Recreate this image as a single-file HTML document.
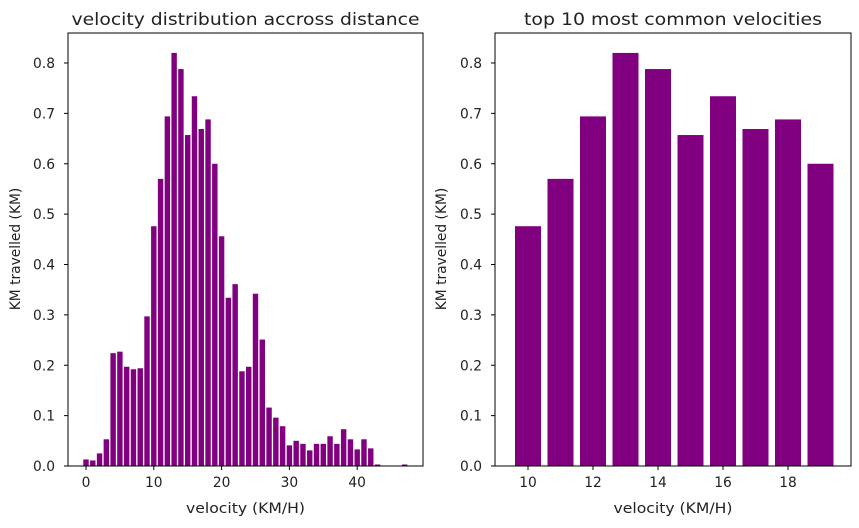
<!DOCTYPE html>
<html><head><meta charset="utf-8"><style>
body{margin:0;background:#fff;font-family:"Liberation Sans","DejaVu Sans",sans-serif;}
svg text{font-family:"DejaVu Sans","Liberation Sans",sans-serif;fill:#222;}
</style></head><body>
<svg id="c" width="859" height="523" xmlns="http://www.w3.org/2000/svg"></svg>
<script>
const leftCats=[0,1,2,3,4,5,6,7,8,9,10,11,12,13,14,15,16,17,18,19,20,21,22,23,24,25,26,27,28,29,30,31,32,33,34,35,36,37,38,39,40,41,42,43,47];
const leftVals=[0.013,0.011,0.025,0.053,0.224,0.227,0.197,0.192,0.194,0.297,0.476,0.570,0.694,0.820,0.788,0.657,0.734,0.669,0.688,0.600,0.456,0.334,0.361,0.188,0.197,0.342,0.251,0.116,0.096,0.079,0.041,0.050,0.044,0.031,0.044,0.044,0.059,0.044,0.073,0.053,0.033,0.053,0.035,0.003,0.003];
const leftXTicks=[0,10,20,30,40];
const rightCats=[10,11,12,13,14,15,16,17,18,19];
const rightVals=[0.476,0.570,0.694,0.820,0.788,0.657,0.734,0.669,0.688,0.600];
const rightXTicks=[10,12,14,16,18];
const yTicks=[0,0.1,0.2,0.3,0.4,0.5,0.6,0.7,0.8];

const svg=document.getElementById('c');
const NS='http://www.w3.org/2000/svg';
function mk(t,a,p){const e=document.createElementNS(NS,t);for(const k in a)e.setAttribute(k,a[k]);(p||svg).appendChild(e);return e;}
const y=v=>466-v*503.75;

function panel(opts){
  const g=mk('g',{});
  
  
  const x=v=>opts.x0+(v-opts.v0)*opts.ppu;
  opts.cats.forEach((c,i)=>{
    const w=0.8*opts.ppu;
    const r=mk('rect',{x:x(c)-w/2,y:y(opts.vals[i]),width:w,height:466-y(opts.vals[i]),fill:'#800080'},g);
    
    
  });
  mk('rect',{x:opts.L,y:33,width:opts.R-opts.L,height:433,fill:'none',stroke:'#000','stroke-width':1},g);
  yTicks.forEach(t=>{
    mk('line',{x1:opts.L-4,x2:opts.L,y1:y(t),y2:y(t),stroke:'#000'},g);
    const tx=mk('text',{x:opts.L-13,y:y(t)+5,'text-anchor':'end','font-size':13.8},g);
    tx.textContent=t.toFixed(1);
    
    
  });
  opts.xt.forEach(t=>{
    mk('line',{x1:x(t),x2:x(t),y1:466,y2:470,stroke:'#000'},g);
    const tx=mk('text',{x:x(t),y:487,'text-anchor':'middle','font-size':13.8},g);
    tx.textContent=t;
    
    
  });
  const xl=mk('text',{x:(opts.L+opts.R)/2,y:513,'text-anchor':'middle','font-size':13.8,textLength:119,lengthAdjust:'spacingAndGlyphs'},g);
  xl.textContent='velocity (KM/H)';
  
  
  const yl=mk('text',{x:0,y:0,'text-anchor':'middle','font-size':13.8,transform:`translate(${opts.yx},249) rotate(-90)`},g);
  yl.textContent='KM travelled (KM)';
  
  
  const ti=mk('text',{x:(opts.L+opts.R)/2,y:25,'text-anchor':'middle','font-size':16.8,textLength:opts.tw,lengthAdjust:'spacingAndGlyphs'},g);
  ti.textContent=opts.title;
  
  
}
panel({name:'left-chart',L:68,R:423,x0:86,v0:0,ppu:6.78,yx:20,tw:348,cats:leftCats,vals:leftVals,xt:leftXTicks,title:'velocity distribution accross distance'});
panel({name:'right-chart',L:495,R:851,x0:528,v0:10,ppu:32.5,yx:446,tw:298,cats:rightCats,vals:rightVals,xt:rightXTicks,title:'top 10 most common velocities'});
</script>
</body></html>
